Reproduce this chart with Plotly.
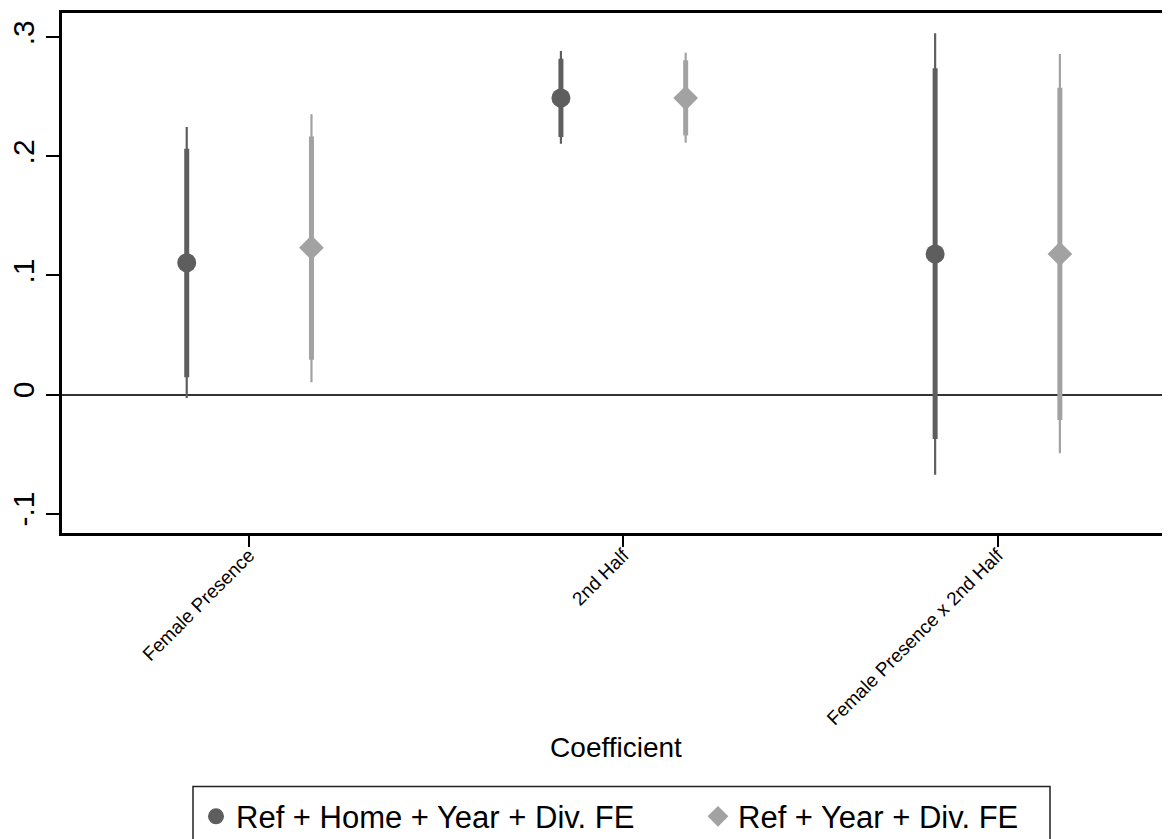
import plotly.graph_objects as go

# ---- data ----
categories = ["Female Presence", "2nd Half", "Female Presence x 2nd Half"]
series_names = ["Ref + Home + Year + Div. FE", "Ref + Year + Div. FE"]

est_home = [0.1107, 0.249, 0.118]
ci90_lo_home = [0.0146, 0.2162, -0.0374]
ci90_hi_home = [0.2064, 0.2820, 0.2740]
ci95_lo_home = [-0.0030, 0.2106, -0.0673]
ci95_hi_home = [0.2247, 0.2885, 0.3035]

est_nohome = [0.1233, 0.249, 0.118]
ci90_lo_nohome = [0.0291, 0.2176, -0.0215]
ci90_hi_nohome = [0.2168, 0.2807, 0.2576]
ci95_lo_nohome = [0.0104, 0.2115, -0.0493]
ci95_hi_nohome = [0.2353, 0.2870, 0.2860]

ytick_vals = [-0.1, 0, 0.1, 0.2, 0.3]
ytick_text = ["-.1", "0", ".1", ".2", ".3"]

# ---- styling ----
DARK = "#5e5e5e"
LIGHT = "#a2a2a2"
FONT = "Liberation Sans, Arial, Helvetica, sans-serif"
OFFSET = 1 / 6

# page body has an 8px default margin; figure sized to end at window edge
PAGE_OFF = 8
W, H = 1170 - PAGE_OFF, 839 - PAGE_OFF


def fx(px):  # reference page x -> figure x
    return px - PAGE_OFF


def fy(py):
    return py - PAGE_OFF


ML, MT, MR = fx(62), fy(13), 0
PLOT_BOTTOM = fy(532.7)
MB = H - PLOT_BOTTOM
PW = W - ML - MR
PH = PLOT_BOTTOM - MT

fig = go.Figure()


def segs(xs, lo, hi):
    X, Y = [], []
    for x, a, b in zip(xs, lo, hi):
        X += [x, x, None]
        Y += [a, b, None]
    return X, Y


xpos = [1, 2, 3]
groups = [
    (series_names[0], DARK, "circle", -OFFSET, est_home,
     ci90_lo_home, ci90_hi_home, ci95_lo_home, ci95_hi_home, "legend"),
    (series_names[1], LIGHT, "diamond", OFFSET, est_nohome,
     ci90_lo_nohome, ci90_hi_nohome, ci95_lo_nohome, ci95_hi_nohome, "legend2"),
]

for name, col, sym, off, est, lo90, hi90, lo95, hi95, lg in groups:
    xs = [x + off for x in xpos]
    X, Y = segs(xs, lo95, hi95)
    fig.add_trace(go.Scatter(x=X, y=Y, mode="lines", line=dict(color=col, width=2.2),
                             showlegend=False, hoverinfo="skip"))
    X, Y = segs(xs, lo90, hi90)
    fig.add_trace(go.Scatter(x=X, y=Y, mode="lines", line=dict(color=col, width=5),
                             showlegend=False, hoverinfo="skip"))

for name, col, sym, off, est, lo90, hi90, lo95, hi95, lg in groups:
    xs = [x + off for x in xpos]
    fig.add_trace(go.Scatter(x=xs, y=est, mode="markers", name=name, legend=lg,
                             marker=dict(symbol=sym, size=19, color=col,
                                         line=dict(width=0))))

# ranges derived from pixel layout of the reference
px_per_cat = 374.2
x0 = 0.5
x1 = x0 + PW / px_per_cat
px_per_unit = 1190.0
y_top = 0.3 + (37.3 - 13) / px_per_unit
y_bot = y_top - PH / px_per_unit


def paper_x(px):
    return (fx(px) - ML) / PW


def paper_y(py):
    return (PLOT_BOTTOM - fy(py)) / PH


def cont_x(px):
    return fx(px) / W


def cont_y(py):
    return 1 - fy(py) / H


legend_common = dict(
    orientation="h", xanchor="left", yanchor="middle",
    xref="container", yref="container",
    font=dict(size=31, family=FONT, color="black"),
    bgcolor="rgba(0,0,0,0)", borderwidth=0, itemsizing="trace",
)

fig.update_layout(
    width=W, height=H,
    margin=dict(l=ML, r=MR, t=MT, b=MB, pad=0),
    paper_bgcolor="white", plot_bgcolor="white",
    font=dict(family=FONT, color="black"),
    xaxis=dict(
        range=[x0, x1], tickvals=xpos, ticktext=categories,
        tickangle=-45, tickfont=dict(size=19, family=FONT, color="black"),
        ticks="outside", ticklen=11, tickwidth=2, tickcolor="black",
        ticklabelstandoff=-10,
        showline=True, linecolor="black", linewidth=2.5, mirror=True,
        showgrid=False, zeroline=False, automargin=False,
        title=dict(text="Coefficient", font=dict(size=28, family=FONT, color="black"),
                   standoff=10),
    ),
    yaxis=dict(
        range=[y_bot, y_top], tickvals=ytick_vals, ticktext=ytick_text,
        tickangle=-90, tickfont=dict(size=30, family=FONT, color="black"),
        ticks="outside", ticklen=13, tickwidth=2, tickcolor="black",
        showline=True, linecolor="black", linewidth=2.5, mirror=False,
        showgrid=False, zeroline=True, zerolinecolor="#333333", zerolinewidth=2,
        automargin=False,
    ),
    legend=dict(x=cont_x(196), y=cont_y(816.7), **legend_common),
    legend2=dict(x=cont_x(698), y=cont_y(816.7), **legend_common),
    shapes=[dict(type="rect", xref="paper", yref="paper",
                 x0=paper_x(193), x1=paper_x(1050),
                 y0=paper_y(880), y1=paper_y(786),
                 line=dict(color="#222222", width=1.5), fillcolor="rgba(0,0,0,0)")],
)

fig.write_html("out.html")
